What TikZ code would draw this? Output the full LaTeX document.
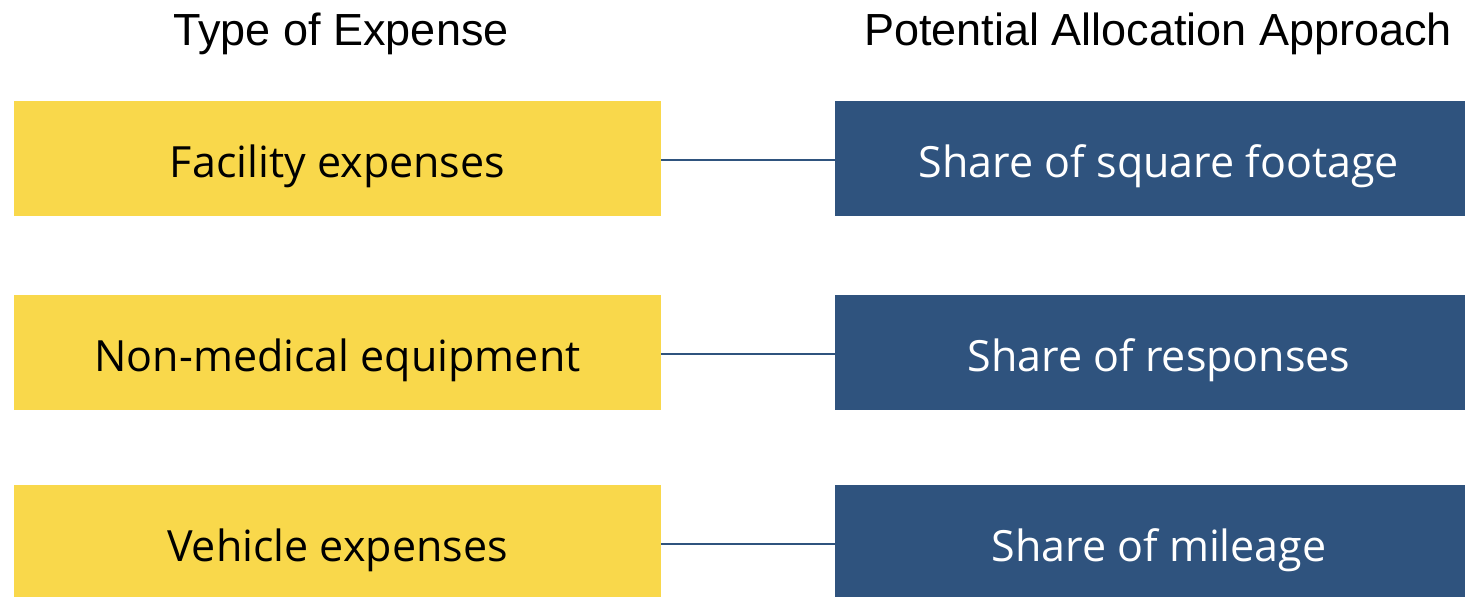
\documentclass[tikz,border=0pt]{standalone}
\usepackage{fontspec}
\setmainfont{Liberation Sans}
\newfontfamily\boxfont{Open Sans}
\definecolor{ybox}{RGB}{249,216,75}
\definecolor{bbox}{RGB}{47,83,126}
\tikzset{
  ycell/.style={fill=ybox, draw=none},
  bcell/.style={fill=bbox, draw=none},
  hdr/.style={anchor=base, inner sep=0pt, font=\fontsize{45}{50}\selectfont, text=black},
  ytxt/.style={anchor=base, inner sep=0pt, font=\boxfont\fontsize{43}{48}\selectfont, text=black},
  btxt/.style={anchor=base, inner sep=0pt, font=\boxfont\fontsize{43}{48}\selectfont, text=white},
  link/.style={draw=bbox, line width=2pt}
}
\begin{document}
\begin{tikzpicture}[x=1pt,y=-1pt]
\useasboundingbox (0,0) rectangle (1465,597);
\clip (0,0) rectangle (1465,597);
\node[hdr] (h1) at (341,45) {Type of Expense};
\node[hdr] (h2) at (1158,45) {Potential Allocation Approach};
\foreach \i/\top/\lt/\rt in {1/101/Facility expenses/Share of square footage,
                             2/295/Non-medical equipment/Share of responses,
                             3/485/Vehicle expenses/Share of mileage}{
  \path[ycell] (14,\top) rectangle (661,\top+115);
  \path[bcell] (835,\top) rectangle (1480,\top+115);
  \coordinate (yr\i) at (661,\top+59);
  \coordinate (bl\i) at (835,\top+59);
  \node[ytxt] (y\i) at (337.5,\top+76) {\lt};
  \node[btxt] (b\i) at (1159,\top+76) {\rt};
  \draw[link] (yr\i) -- (bl\i);
}
\end{tikzpicture}
\end{document}
